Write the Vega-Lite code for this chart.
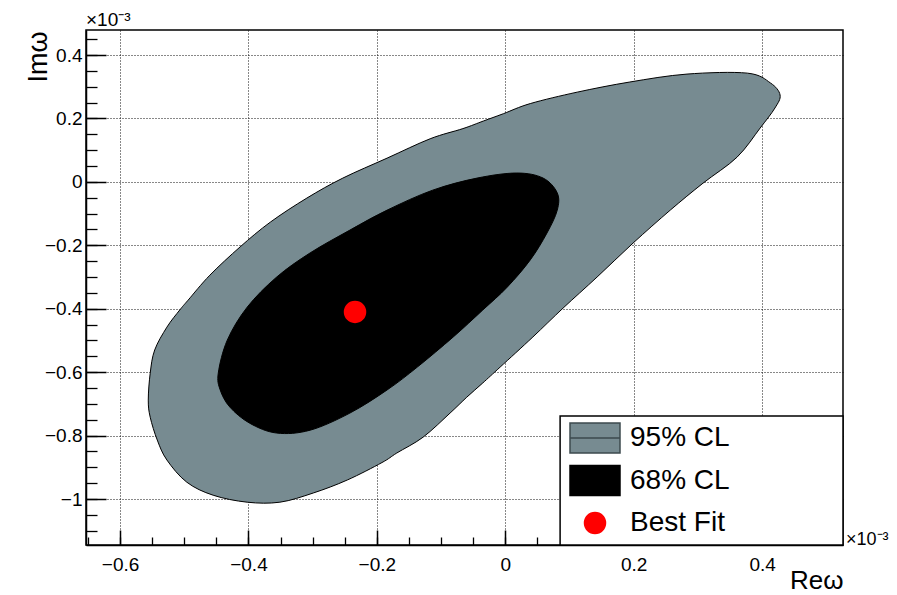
{
  "$schema": "https://vega.github.io/schema/vega-lite/v6.json",
  "width": 757,
  "height": 515,
  "autosize": {"type": "none"},
  "padding": {"left": 86, "top": 30, "right": 54, "bottom": 50},
  "background": "white",
  "config": {
    "font": "Liberation Sans",
    "view": {"stroke": "black", "strokeWidth": 1.5},
    "axis": {
      "labelFont": "Liberation Sans",
      "labelColor": "black",
      "titleFont": "Liberation Sans",
      "titleColor": "black",
      "titleFontWeight": "normal",
      "domainColor": "black",
      "tickColor": "black"
    }
  },
  "datasets": {
    "outer": [
      {"i": 1, "re": -0.556, "im": -0.688, "level": "95% CL"},
      {"i": 2, "re": -0.553, "im": -0.603, "level": "95% CL"},
      {"i": 3, "re": -0.546, "im": -0.530, "level": "95% CL"},
      {"i": 4, "re": -0.527, "im": -0.458, "level": "95% CL"},
      {"i": 5, "re": -0.507, "im": -0.404, "level": "95% CL"},
      {"i": 6, "re": -0.494, "im": -0.373, "level": "95% CL"},
      {"i": 7, "re": -0.460, "im": -0.294, "level": "95% CL"},
      {"i": 8, "re": -0.413, "im": -0.205, "level": "95% CL"},
      {"i": 9, "re": -0.366, "im": -0.127, "level": "95% CL"},
      {"i": 10, "re": -0.309, "im": -0.051, "level": "95% CL"},
      {"i": 11, "re": -0.253, "im": 0.012, "level": "95% CL"},
      {"i": 12, "re": -0.184, "im": 0.075, "level": "95% CL"},
      {"i": 13, "re": -0.117, "im": 0.136, "level": "95% CL"},
      {"i": 14, "re": -0.066, "im": 0.168, "level": "95% CL"},
      {"i": 15, "re": -0.034, "im": 0.192, "level": "95% CL"},
      {"i": 16, "re": -0.003, "im": 0.215, "level": "95% CL"},
      {"i": 17, "re": 0.039, "im": 0.247, "level": "95% CL"},
      {"i": 18, "re": 0.112, "im": 0.283, "level": "95% CL"},
      {"i": 19, "re": 0.194, "im": 0.315, "level": "95% CL"},
      {"i": 20, "re": 0.283, "im": 0.340, "level": "95% CL"},
      {"i": 21, "re": 0.377, "im": 0.343, "level": "95% CL"},
      {"i": 22, "re": 0.413, "im": 0.312, "level": "95% CL"},
      {"i": 23, "re": 0.428, "im": 0.274, "level": "95% CL"},
      {"i": 24, "re": 0.420, "im": 0.233, "level": "95% CL"},
      {"i": 25, "re": 0.397, "im": 0.170, "level": "95% CL"},
      {"i": 26, "re": 0.361, "im": 0.078, "level": "95% CL"},
      {"i": 27, "re": 0.308, "im": -0.004, "level": "95% CL"},
      {"i": 28, "re": 0.257, "im": -0.089, "level": "95% CL"},
      {"i": 29, "re": 0.199, "im": -0.193, "level": "95% CL"},
      {"i": 30, "re": 0.143, "im": -0.300, "level": "95% CL"},
      {"i": 31, "re": 0.090, "im": -0.398, "level": "95% CL"},
      {"i": 32, "re": 0.043, "im": -0.489, "level": "95% CL"},
      {"i": 33, "re": -0.008, "im": -0.584, "level": "95% CL"},
      {"i": 34, "re": -0.035, "im": -0.634, "level": "95% CL"},
      {"i": 35, "re": -0.060, "im": -0.679, "level": "95% CL"},
      {"i": 36, "re": -0.086, "im": -0.729, "level": "95% CL"},
      {"i": 37, "re": -0.128, "im": -0.805, "level": "95% CL"},
      {"i": 38, "re": -0.169, "im": -0.855, "level": "95% CL"},
      {"i": 39, "re": -0.192, "im": -0.885, "level": "95% CL"},
      {"i": 40, "re": -0.246, "im": -0.940, "level": "95% CL"},
      {"i": 41, "re": -0.299, "im": -0.981, "level": "95% CL"},
      {"i": 42, "re": -0.351, "im": -1.010, "level": "95% CL"},
      {"i": 43, "re": -0.402, "im": -1.010, "level": "95% CL"},
      {"i": 44, "re": -0.455, "im": -0.988, "level": "95% CL"},
      {"i": 45, "re": -0.496, "im": -0.947, "level": "95% CL"},
      {"i": 46, "re": -0.527, "im": -0.877, "level": "95% CL"},
      {"i": 47, "re": -0.542, "im": -0.814, "level": "95% CL"},
      {"i": 48, "re": -0.553, "im": -0.742, "level": "95% CL"}
    ],
    "inner": [
      {"i": 1, "re": -0.447, "im": -0.603, "level": "68% CL"},
      {"i": 2, "re": -0.433, "im": -0.499, "level": "68% CL"},
      {"i": 3, "re": -0.402, "im": -0.395, "level": "68% CL"},
      {"i": 4, "re": -0.356, "im": -0.300, "level": "68% CL"},
      {"i": 5, "re": -0.304, "im": -0.224, "level": "68% CL"},
      {"i": 6, "re": -0.242, "im": -0.152, "level": "68% CL"},
      {"i": 7, "re": -0.184, "im": -0.089, "level": "68% CL"},
      {"i": 8, "re": -0.113, "im": -0.026, "level": "68% CL"},
      {"i": 9, "re": -0.044, "im": 0.012, "level": "68% CL"},
      {"i": 10, "re": 0.018, "im": 0.028, "level": "68% CL"},
      {"i": 11, "re": 0.059, "im": 0.012, "level": "68% CL"},
      {"i": 12, "re": 0.081, "im": -0.035, "level": "68% CL"},
      {"i": 13, "re": 0.081, "im": -0.089, "level": "68% CL"},
      {"i": 14, "re": 0.065, "im": -0.161, "level": "68% CL"},
      {"i": 15, "re": 0.039, "im": -0.246, "level": "68% CL"},
      {"i": 16, "re": 0.003, "im": -0.332, "level": "68% CL"},
      {"i": 17, "re": -0.035, "im": -0.404, "level": "68% CL"},
      {"i": 18, "re": -0.081, "im": -0.489, "level": "68% CL"},
      {"i": 19, "re": -0.137, "im": -0.584, "level": "68% CL"},
      {"i": 20, "re": -0.184, "im": -0.656, "level": "68% CL"},
      {"i": 21, "re": -0.242, "im": -0.729, "level": "68% CL"},
      {"i": 22, "re": -0.304, "im": -0.783, "level": "68% CL"},
      {"i": 23, "re": -0.356, "im": -0.792, "level": "68% CL"},
      {"i": 24, "re": -0.398, "im": -0.761, "level": "68% CL"},
      {"i": 25, "re": -0.429, "im": -0.710, "level": "68% CL"},
      {"i": 26, "re": -0.444, "im": -0.656, "level": "68% CL"}
    ],
    "best": [
      {"re": -0.234, "im": -0.410, "level": "Best Fit"}
    ]
  },
  "resolve": {"axis": {"x": "independent", "y": "independent"}},
  "layer": [
    {
      "data": {"name": "outer"},
      "mark": {"type": "line", "filled": true, "interpolate": "cardinal-closed", "fill": "#778b91", "stroke": "black", "strokeWidth": 1, "opacity": 1},
      "encoding": {
        "x": {
          "field": "re", "type": "quantitative",
          "scale": {"domain": [-0.653, 0.526], "nice": false, "zero": false},
          "axis": {
            "orient": "bottom",
            "values": [-0.6, -0.4, -0.2, 0, 0.2, 0.4],
            "format": "~g",
            "grid": true, "gridDash": [1, 2], "gridColor": "#111", "gridWidth": 1,
            "tickSize": -15, "tickWidth": 1.5, "domainWidth": 1.5,
            "labelPadding": 25, "labelFontSize": 19,
            "title": "Reω", "titleFontSize": 26, "titleAlign": "right", "titleBaseline": "alphabetic",
            "titleAnchor": "end", "titleX": 757, "titleY": 43
          }
        },
        "y": {
          "field": "im", "type": "quantitative",
          "scale": {"domain": [-1.145, 0.479], "nice": false, "zero": false},
          "axis": {
            "orient": "left",
            "values": [-1, -0.8, -0.6, -0.4, -0.2, 0, 0.2, 0.4],
            "format": "~g",
            "grid": true, "gridDash": [1, 2], "gridColor": "#111", "gridWidth": 1,
            "tickSize": -20, "tickWidth": 1.5, "domainWidth": 1.5,
            "labelPadding": 24, "labelFontSize": 19,
            "title": "Imω", "titleFontSize": 27, "titleAngle": 270, "titleAlign": "right", "titleBaseline": "alphabetic",
            "titleAnchor": "end", "titleX": -40, "titleY": 1
          }
        },
        "order": {"field": "i", "type": "quantitative"}
      }
    },
    {
      "data": {"name": "inner"},
      "mark": {"type": "line", "filled": true, "interpolate": "cardinal-closed", "fill": "#000000", "stroke": "black", "strokeWidth": 1, "opacity": 1},
      "encoding": {
        "x": {
          "field": "re", "type": "quantitative",
          "axis": {
            "orient": "bottom",
            "values": [-0.65, -0.6, -0.55, -0.5, -0.45, -0.4, -0.35, -0.3, -0.25, -0.2, -0.15, -0.1, -0.05, 0, 0.05, 0.1, 0.15, 0.2, 0.25, 0.3, 0.35, 0.4, 0.45, 0.5],
            "labels": false, "grid": false, "domain": false, "title": null,
            "tickSize": -8, "tickWidth": 1.3
          }
        },
        "y": {
          "field": "im", "type": "quantitative",
          "axis": {
            "orient": "left",
            "values": [-1.1, -1.05, -1, -0.95, -0.9, -0.85, -0.8, -0.75, -0.7, -0.65, -0.6, -0.55, -0.5, -0.45, -0.4, -0.35, -0.3, -0.25, -0.2, -0.15, -0.1, -0.05, 0, 0.05, 0.1, 0.15, 0.2, 0.25, 0.3, 0.35, 0.4, 0.45],
            "labels": false, "grid": false, "domain": false, "title": null,
            "tickSize": -11, "tickWidth": 1.3
          }
        },
        "order": {"field": "i", "type": "quantitative"}
      }
    },
    {
      "data": {"values": [{}]},
      "mark": {"type": "rect", "fill": "white", "stroke": "black", "strokeWidth": 1.5},
      "encoding": {
        "x": {"datum": 0.0854, "type": "quantitative", "axis": null},
        "x2": {"datum": 0.526},
        "y": {"datum": -1.145, "type": "quantitative", "axis": null},
        "y2": {"datum": -0.738}
      }
    },
    {
      "data": {"name": "best"},
      "mark": {"type": "point", "filled": true, "size": 2500, "opacity": 1, "strokeWidth": 1.5},
      "encoding": {
        "x": {"field": "re", "type": "quantitative", "axis": null},
        "y": {"field": "im", "type": "quantitative", "axis": null},
        "color": {
          "field": "level", "type": "nominal",
          "scale": {"domain": ["95% CL", "68% CL", "Best Fit"], "range": ["#778b91", "#000000", "#ff0000"]},
          "legend": {
            "orient": "none", "legendX": 483, "legendY": 387,
            "title": null, "padding": 0,
            "symbolSize": 2500, "symbolStrokeWidth": 1.5, "symbolOpacity": 1,
            "labelFont": "Liberation Sans", "labelFontSize": 28, "labelColor": "black", "labelOffset": 9,
            "clipHeight": 42, "rowPadding": 0.5
          }
        },
        "shape": {
          "field": "level", "type": "nominal",
          "scale": {
            "domain": ["95% CL", "68% CL", "Best Fit"],
            "range": ["M-1,-0.6H1V0.6H-1ZM-1,0H1", "M-1,-0.6H1V0.6H-1Z", "M-0.42,0A0.42,0.42 0 1,0 0.42,0A0.42,0.42 0 1,0 -0.42,0Z"]
          },
          "legend": {
            "orient": "none", "legendX": 483, "legendY": 387,
            "title": null, "padding": 0,
            "symbolSize": 2500, "symbolStrokeWidth": 1.5, "symbolOpacity": 1,
            "labelFont": "Liberation Sans", "labelFontSize": 28, "labelColor": "black", "labelOffset": 9,
            "clipHeight": 42, "rowPadding": 0.5
          }
        },
        "stroke": {
          "field": "level", "type": "nominal",
          "scale": {
            "domain": ["95% CL", "68% CL", "Best Fit"],
            "range": ["#3c4a4e", "#000000", "#ff0000"]
          },
          "legend": {
            "orient": "none", "legendX": 483, "legendY": 387,
            "title": null, "padding": 0,
            "symbolSize": 2500, "symbolStrokeWidth": 1.5, "symbolOpacity": 1,
            "labelFont": "Liberation Sans", "labelFontSize": 28, "labelColor": "black", "labelOffset": 9,
            "clipHeight": 42, "rowPadding": 0.5
          }
        }
      }
    },
    {
      "data": {"values": [{"t": "×10⁻³"}]},
      "mark": {"type": "text", "align": "left", "baseline": "alphabetic", "fontSize": 19, "dy": -4, "font": "Liberation Sans", "color": "black"},
      "encoding": {
        "x": {"datum": -0.653, "type": "quantitative", "axis": null},
        "y": {"datum": 0.479, "type": "quantitative", "axis": null},
        "text": {"field": "t"}
      }
    },
    {
      "data": {"values": [{"t": "×10⁻³"}]},
      "mark": {"type": "text", "align": "left", "baseline": "alphabetic", "fontSize": 18, "dx": 3, "font": "Liberation Sans", "color": "black"},
      "encoding": {
        "x": {"datum": 0.526, "type": "quantitative", "axis": null},
        "y": {"datum": -1.145, "type": "quantitative", "axis": null},
        "text": {"field": "t"}
      }
    }
  ]
}
